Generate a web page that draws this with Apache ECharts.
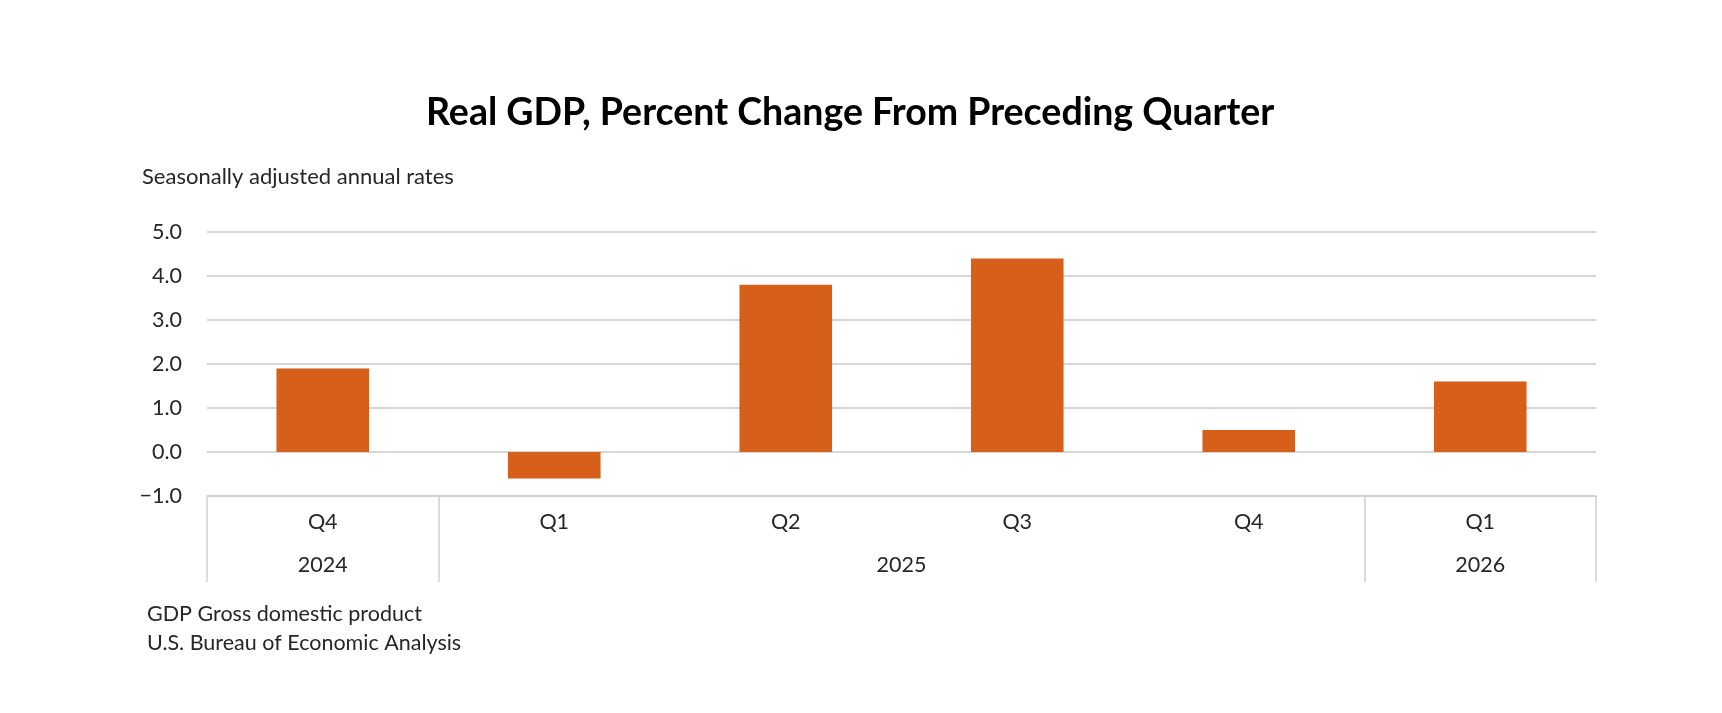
<!DOCTYPE html>
<html>
<head>
<meta charset="utf-8">
<script src="https://cdn.jsdelivr.net/npm/echarts@6/dist/echarts.min.js"></script>
<style>
  html, body { margin: 0; padding: 0; background: #fff; }
  #chart { width: 1722px; height: 713px; }
</style>
</head>
<body>
<div id="chart"></div>
<script>
// data
var quarters = ['Q4', 'Q1', 'Q2', 'Q3', 'Q4', 'Q1'];
var years = ['2024', '2025', '2025', '2025', '2025', '2026'];
var gdpChange = [1.9, -0.6, 3.8, 4.4, 0.5, 1.6];
var yTicks = [-1, 0, 1, 2, 3, 4, 5];

var FONT = 'Lato';
var TEXT = '#262626';
var SIZE = 21.5;

// year groups: boundaries and label positions along the quarter index
var yearBounds = [0];
var yearMid = [];
var yearNames = [];
var start = 0;
for (var i = 1; i <= years.length; i++) {
  if (i === years.length || years[i] !== years[start]) {
    yearBounds.push(i);
    yearMid.push((start + i) / 2);
    yearNames.push(years[start]);
    start = i;
  }
}

var myChart = echarts.init(document.getElementById('chart'));

var option = {
  backgroundColor: '#fff',
  animation: false,
  title: [
    {
      text: 'Real GDP, Percent Change From Preceding Quarter',
      left: 421,
      top: 89,
      textStyle: { fontFamily: FONT, fontWeight: 'bold', fontSize: 37.5, color: '#000' }
    },
    {
      text: 'Seasonally adjusted annual rates',
      left: 137,
      top: 161,
      textStyle: { fontFamily: FONT, fontWeight: 'normal', fontSize: 22, color: TEXT }
    },
    {
      text: 'GDP Gross domestic product',
      left: 142,
      top: 598,
      textStyle: { fontFamily: FONT, fontWeight: 'normal', fontSize: SIZE, color: TEXT }
    },
    {
      text: 'U.S. Bureau of Economic Analysis',
      left: 142,
      top: 627,
      textStyle: { fontFamily: FONT, fontWeight: 'normal', fontSize: SIZE, color: TEXT }
    }
  ],
  grid: { left: 207, right: 126, top: 232, bottom: 217 },
  xAxis: [
    {
      type: 'category',
      data: quarters,
      position: 'bottom',
      axisLine: { onZero: false, lineStyle: { color: '#d0d0d0', width: 1.5 } },
      axisTick: { show: false },
      axisLabel: { fontFamily: FONT, fontSize: SIZE, color: TEXT, margin: 15 },
      splitLine: { show: false }
    },
    {
      // year band below the quarters
      type: 'value',
      min: 0,
      max: quarters.length,
      position: 'bottom',
      axisLine: { show: false, onZero: false },
      axisTick: {
        show: true,
        customValues: yearBounds,
        length: 86,
        lineStyle: { color: '#d0d0d0', width: 1.5 }
      },
      axisLabel: {
        customValues: yearMid,
        fontFamily: FONT, fontSize: SIZE, color: TEXT, margin: 58,
        formatter: function (v) {
          var k = yearMid.indexOf(v);
          return k >= 0 ? yearNames[k] : '';
        }
      },
      splitLine: { show: false }
    }
  ],
  yAxis: {
    type: 'value',
    min: yTicks[0],
    max: yTicks[yTicks.length - 1],
    interval: 1,
    axisLine: { show: false },
    axisTick: { show: false },
    axisLabel: {
      fontFamily: FONT, fontSize: SIZE, color: TEXT, margin: 25,
      formatter: function (v) {
        return v < 0 ? '\u2212' + Math.abs(v).toFixed(1) : v.toFixed(1);
      }
    },
    splitLine: { lineStyle: { color: '#c8c8c8', width: 1.5 } }
  },
  series: [
    {
      name: 'Real GDP',
      type: 'bar',
      xAxisIndex: 0,
      data: gdpChange,
      barWidth: '40%',
      itemStyle: { color: '#d65f1a' }
    }
  ]
};
myChart.setOption(option, true);
</script>
</body>
</html>
